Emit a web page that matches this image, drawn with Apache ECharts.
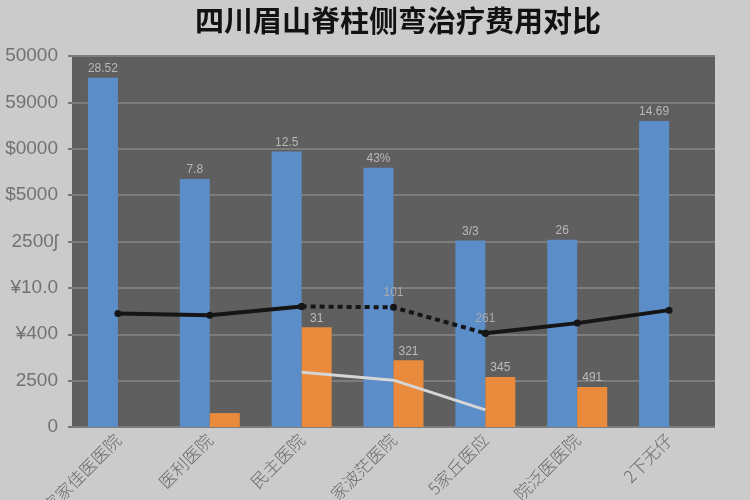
<!DOCTYPE html>
<html>
<head>
<meta charset="utf-8">
<script src="https://cdn.jsdelivr.net/npm/echarts@6/dist/echarts.min.js"></script>
<style>
html,body{margin:0;padding:0;background:#cbcbcb;}
#c{width:750px;height:500px;}
</style>
</head>
<body>
<div id="c"></div>
<script>
var titleText = '四川眉山脊柱侧弯治疗费用对比';
var categories = ['家家佳医医院', '医利医院', '民主医院', '家波茫医院', '5家丘医应', '院泛医医院', '2下无仔'];
var yTickLabels = ['0', '2500', '¥400', '¥10.0', '2500ʃ', '$5000', '$0000', '59000', '50000'];
var blueValues = [7.53, 5.35, 5.94, 5.59, 4.02, 4.04, 6.60];
var blueLabels = ['28.52', '7.8', '12.5', '43%', '3/3', '26', '14.69'];
var orangeValues = [null, 0.3, 2.15, 1.44, 1.08, 0.86, null];
var orangeLabels = ['', '', '31', '321', '345', '491', ''];
var lineSolid = [2.45, 2.41, 2.6, null, 2.02, 2.24, 2.52];
var lineDashed = [null, null, 2.6, 2.58, 2.02, null, null];
var lineLabels = ['', '', '', '101', '261', '19', ''];
var grayLine = [null, null, 1.18, 1.01, 0.37, null, null];

function toData(arr){ return arr.map(function(v){ return v === null ? '-' : v; }); }

var chart = echarts.init(document.getElementById('c'));
chart.setOption({
  backgroundColor: '#cbcbcb',
  animation: false,
  title: {
    text: titleText, left: 190, top: 1,
    textStyle: {fontSize: 29, fontWeight: 'bold', color: '#121212', fontFamily: 'Noto Sans CJK SC'}
  },
  grid: {left: 72, right: 35, top: 56, bottom: 73, show: true, backgroundColor: '#5f5f5f', borderWidth: 0,
    containLabel: false, outerBoundsMode: 'none'},
  xAxis: {
    type: 'category', data: categories,
    axisLine: {show: false}, axisTick: {show: false},
    axisLabel: {rotate: 45, fontSize: 17, color: '#6a6a6a', margin: 10, fontFamily: 'Noto Sans CJK SC', fontWeight: 300}
  },
  yAxis: {
    type: 'value', min: 0, max: 8, interval: 1,
    axisLine: {show: false},
    axisTick: {show: true, length: 4, lineStyle: {color: '#777', width: 2}},
    axisLabel: {fontSize: 19, color: '#727272', margin: 14, fontFamily: 'Liberation Sans',
      formatter: function(v){ return yTickLabels[Math.round(v)]; }},
    splitLine: {lineStyle: {color: '#7d7d7d', width: 2}}
  },
  series: [
    {type: 'bar', data: toData(blueValues), barWidth: 30, barGap: '0%',
      itemStyle: {color: '#5b8dc8'},
      label: {show: true, position: 'top', color: '#b8b8b8', fontSize: 12, distance: 3,
        formatter: function(p){ return blueLabels[p.dataIndex]; }}},
    {type: 'bar', data: toData(orangeValues), barWidth: 30,
      itemStyle: {color: '#e98a3c'},
      label: {show: true, position: 'top', color: '#bdbdbd', fontSize: 12, distance: 3,
        formatter: function(p){ return orangeLabels[p.dataIndex]; }}},
    {type: 'line', data: toData(grayLine), symbol: 'none',
      lineStyle: {color: '#d6d6d6', width: 3}, z: 5},
    {type: 'line', data: toData(lineSolid), symbol: 'circle', symbolSize: 7,
      itemStyle: {color: '#151515'}, lineStyle: {color: '#151515', width: 4}, z: 6},
    {type: 'line', data: toData(lineDashed), symbol: 'circle', symbolSize: 7,
      itemStyle: {color: '#151515'}, lineStyle: {color: '#151515', width: 4, type: [5, 4]}, z: 6,
      label: {show: true, position: 'top', color: '#aaaaaa', fontSize: 12,
        formatter: function(p){ return lineLabels[p.dataIndex]; }}}
  ]
});
</script>
</body>
</html>
